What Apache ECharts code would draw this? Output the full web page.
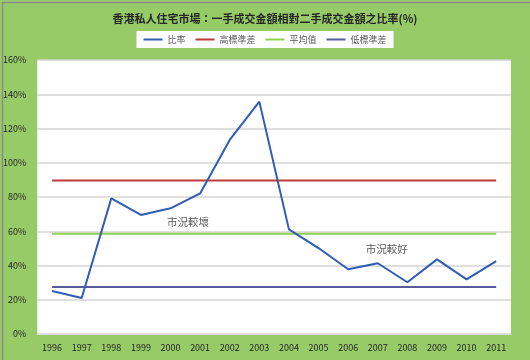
<!DOCTYPE html>
<html><head><meta charset="utf-8">
<script src="https://cdn.jsdelivr.net/npm/echarts@6/dist/echarts.min.js"></script>
<style>html,body{margin:0;padding:0;}#c{width:530px;height:360px;}</style>
</head><body><div id="c"></div>
<script>
const years = ['1996','1997','1998','1999','2000','2001','2002','2003','2004','2005','2006','2007','2008','2009','2010','2011'];
const ratio = [25.1,21.0,79.2,69.5,73.4,82.1,113.3,135.7,61.1,50.2,37.8,41.3,30.2,43.6,31.9,42.6];
const highStd = 89.6;
const meanVal = 58.6;
const lowStd = 27.5;
const yTicks = [0,20,40,60,80,100,120,140,160];
const notes = [
  {text:'市況較壞', year:'2001', value:65.4},
  {text:'市況較好', year:'2007', value:49.6}
];
const noteOffsets = [[-12,0],[9,0]];
const constSeries = v => years.map(() => v);
const chart = echarts.init(document.getElementById('c'));
const font = '"Microsoft JhengHei","Noto Sans CJK TC",sans-serif';
chart.setOption({
  backgroundColor:'#97CB68',
  animation:false,
  textStyle:{fontFamily:font},
  title:{text:'香港私人住宅市場：一手成交金額相對二手成交金額之比率(%)',left:'center',top:8,
    textStyle:{fontSize:11,fontWeight:'bold',color:'#262626',fontFamily:font}},
  legend:{top:31,left:'center',backgroundColor:'#ffffff',padding:[4,7,4,7],itemGap:10,
    itemWidth:19,itemHeight:2,icon:'rect',
    textStyle:{fontSize:9,color:'#595959',fontFamily:font},
    data:['比率','高標準差','平均值','低標準差']},
  grid:{left:36,right:19,top:60,bottom:26,show:true,backgroundColor:'#ffffff',borderWidth:0},
  xAxis:{type:'category',data:years,boundaryGap:true,
    axisLine:{show:true,lineStyle:{color:'#D9D9D9',width:1}},axisTick:{show:false},
    axisLabel:{fontSize:9,color:'#262626',margin:9,fontFamily:font}},
  yAxis:{type:'value',min:0,max:160,interval:20,
    axisLabel:{fontSize:9,color:'#262626',formatter:v=>v+'%',margin:11,fontFamily:font},
    axisLine:{show:false},axisTick:{show:false},
    splitLine:{lineStyle:{color:'#D4D4D4',width:1.5}}},
  series:[
    {name:'比率',type:'line',data:ratio,symbol:'none',lineStyle:{color:'#2F5DB5',width:2},itemStyle:{color:'#2F5DB5'},z:5,
     markPoint:{symbol:'rect',symbolSize:0,
       label:{show:true,fontSize:10.5,color:'#595959',fontFamily:font,formatter:p=>p.name},
       data:notes.map((n,i)=>({name:n.text,coord:[n.year,n.value],label:{offset:noteOffsets[i]}}))}},
    {name:'高標準差',type:'line',data:constSeries(highStd),symbol:'none',lineStyle:{color:'#C0393B',width:2},itemStyle:{color:'#C0393B'},z:3},
    {name:'平均值',type:'line',data:constSeries(meanVal),symbol:'none',lineStyle:{color:'#92D050',width:2},itemStyle:{color:'#92D050'},z:3},
    {name:'低標準差',type:'line',data:constSeries(lowStd),symbol:'none',lineStyle:{color:'#5A5A9A',width:2},itemStyle:{color:'#5A5A9A'},z:3}
  ],
  graphic:[{type:'rect',left:0,top:0,shape:{width:529,height:359},style:{fill:null,stroke:'#8C8C8C',lineWidth:1.5},silent:true}]
});
</script></body></html>
